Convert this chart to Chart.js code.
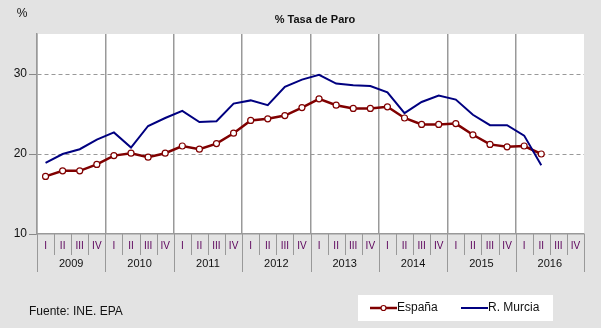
<!DOCTYPE html>
<html>
<head>
<meta charset="utf-8">
<script src="https://cdn.jsdelivr.net/npm/chart.js@4/dist/chart.umd.min.js"></script>
<style>
  body { margin: 0; background: #e3e3e3; }
  #wrap { width: 601px; height: 328px; }
</style>
</head>
<body>
<div id="wrap"><canvas id="paroChart" width="601" height="328"></canvas></div>
<script>
// datos EPA, tasa de paro trimestral
const years = ['2009', '2010', '2011', '2012', '2013', '2014', '2015', '2016'];
const quarters = ['I', 'II', 'III', 'IV'];
const espana = [17.2, 17.9, 17.9, 18.7,  19.8, 20.1, 19.6, 20.1,  21.0, 20.6, 21.3, 22.6,
                24.2, 24.4, 24.8, 25.8,  26.9, 26.1, 25.7, 25.7,  25.9, 24.5, 23.7, 23.7,
                23.8, 22.4, 21.2, 20.9,  21.0, 20.0];
const murcia = [18.9, 20.0, 20.6, 21.8,  22.7, 20.8, 23.5, 24.5,  25.4, 24.0, 24.1, 26.3,
                26.7, 26.1, 28.4, 29.3,  29.9, 28.8, 28.6, 28.5,  27.7, 25.1, 26.5, 27.3,
                26.8, 24.9, 23.6, 23.6,  22.3, 18.6];
const yTicks = [10, 20, 30];

const labels = [];
years.forEach(y => quarters.forEach(q => labels.push(q)));

const FONT = '"Liberation Sans", Arial, sans-serif';

// fondo gris y area blanca
const fondo = {
    id: 'fondo',
    beforeDraw(chart) {
        const c = chart.ctx, a = chart.chartArea;
        c.save();
        c.fillStyle = '#e3e3e3';
        c.fillRect(0, 0, chart.width, chart.height);
        c.fillStyle = '#ffffff';
        c.fillRect(a.left, a.top, a.right - a.left, a.bottom - a.top);
        c.restore();
    }
};

// eje x con trimestres y años, titulo, fuente y leyenda
const extras = {
    id: 'extras',
    afterDraw(chart) {
        const c = chart.ctx, a = chart.chartArea, xs = chart.scales.x;
        const half = (xs.getPixelForValue(1) - xs.getPixelForValue(0)) / 2;
        c.save();
        c.strokeStyle = '#999';
        c.lineWidth = 1;
        c.textAlign = 'center';
        c.textBaseline = 'middle';
        for (let i = 0; i < labels.length; i++) {
            const cx = xs.getPixelForValue(i);
            c.fillStyle = '#5a005a';
            c.font = '10px ' + FONT;
            c.fillText(labels[i], cx, 246);
            const sx = Math.round(cx + half) + 0.5;
            const end = (i + 1) % 4 === 0 ? 272 : 255;
            c.beginPath(); c.moveTo(sx, a.bottom); c.lineTo(sx, end); c.stroke();
        }
        const x0 = Math.round(xs.getPixelForValue(0) - half) + 0.5;
        c.beginPath(); c.moveTo(x0, a.bottom); c.lineTo(x0, 272); c.stroke();
        c.fillStyle = '#111';
        c.font = '11px ' + FONT;
        years.forEach((y, k) => {
            const cx = (xs.getPixelForValue(k * 4) + xs.getPixelForValue(k * 4 + 3)) / 2;
            c.fillText(y, cx, 264);
        });

        // titulo y unidad
        c.font = 'bold 11px ' + FONT;
        c.fillText('% Tasa de Paro', 315, 20);
        c.font = '12px ' + FONT;
        c.fillText('%', 22, 14);

        // fuente
        c.textAlign = 'left';
        c.fillText('Fuente: INE. EPA', 29, 312);

        // leyenda
        c.fillStyle = '#ffffff';
        c.fillRect(358, 295, 195, 26);
        const ds = chart.data.datasets;
        const items = [[ds[0], 370], [ds[1], 461]];
        items.forEach(([d, lx]) => {
            c.strokeStyle = d.borderColor;
            c.lineWidth = d.borderWidth;
            c.beginPath(); c.moveTo(lx, 308); c.lineTo(lx + 27, 308); c.stroke();
            if (d.pointRadius > 0) {
                c.fillStyle = '#fff';
                c.lineWidth = 1.2;
                c.beginPath(); c.arc(lx + 13.5, 308, 2.5, 0, Math.PI * 2); c.fill(); c.stroke();
            }
            c.fillStyle = '#111';
            c.font = '12px ' + FONT;
            c.textBaseline = 'middle';
            c.fillText(d.label, lx + 27, 308);
        });
        c.restore();
    }
};

const ctx = document.getElementById('paroChart').getContext('2d');
const grafico = new Chart(ctx, {
    type: 'line',
    data: {
        labels: labels,
        datasets: [
            {
                label: 'España',
                data: espana,
                borderColor: '#800000',
                backgroundColor: '#ffffff',
                borderWidth: 2.5,
                pointRadius: 3,
                pointBorderWidth: 1.2,
                pointBackgroundColor: '#ffffff',
                pointBorderColor: '#800000',
                tension: 0,
                order: 1
            },
            {
                label: 'R. Murcia',
                data: murcia,
                borderColor: '#000080',
                borderWidth: 2,
                pointRadius: 0,
                tension: 0,
                order: 0
            }
        ]
    },
    options: {
        responsive: false,
        animation: false,
        layout: { padding: { top: 34, right: 17, bottom: 54, left: 0 } },
        plugins: { legend: { display: false }, tooltip: { enabled: false } },
        scales: {
            x: {
                type: 'category',
                offset: true,
                grid: {
                    offset: true,
                    drawTicks: false,
                    lineWidth: 1.5,
                    color: c => (c.index % 4 === 0 ? '#999' : 'rgba(0,0,0,0)')
                },
                border: { color: '#999', width: 1.5 },
                ticks: { display: false },
                afterFit: s => { s.height = 40; }
            },
            y: {
                min: 10,
                max: 35,
                afterBuildTicks: s => { s.ticks = yTicks.map(v => ({ value: v })); },
                grid: {
                    color: c => (c.tick && c.tick.value === 10 ? 'rgba(0,0,0,0)' : '#999'),
                    tickColor: '#888',
                    tickLength: 8,
                    lineWidth: 1
                },
                border: { color: '#999', width: 1.5, dash: [4, 3] },
                ticks: {
                    padding: 2,
                    color: '#111',
                    font: { family: FONT, size: 12 }
                },
                afterFit: s => { s.width = 37; }
            }
        }
    },
    plugins: [fondo, extras]
});
</script>
</body>
</html>
